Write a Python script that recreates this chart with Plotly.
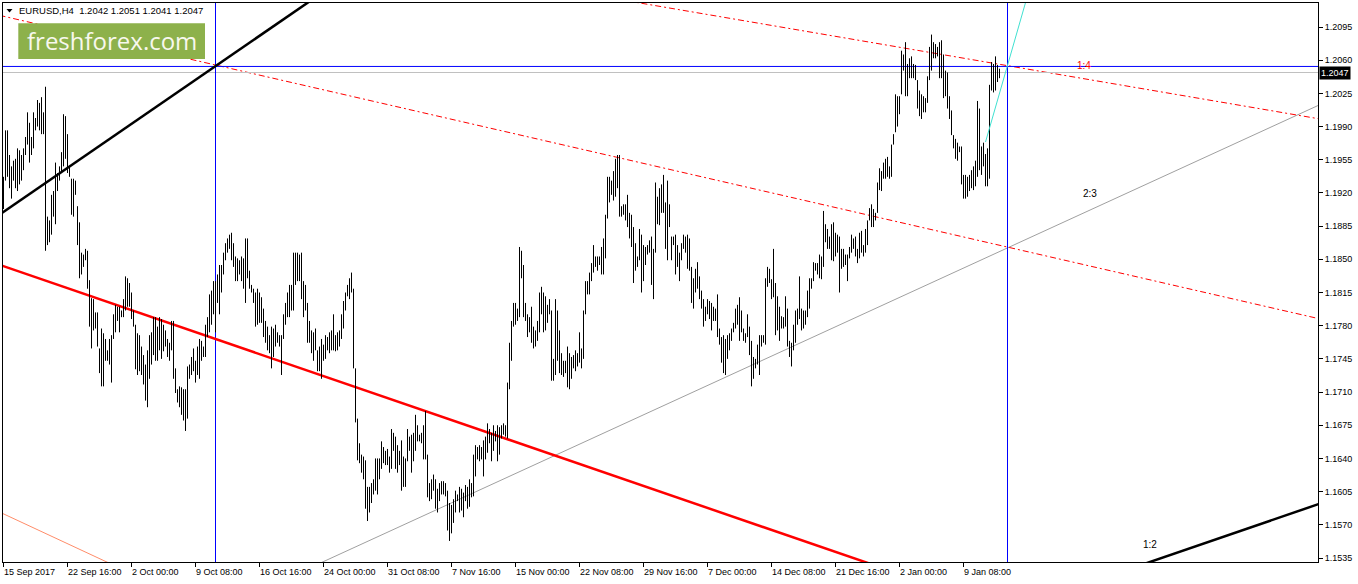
import plotly.graph_objects as go

# ---------------- data ----------------
symbol_title = "EURUSD,H4\u00a0 1.2042 1.2051 1.2041 1.2047"
x_labels = ["15 Sep 2017", "22 Sep 16:00", "2 Oct 00:00", "9 Oct 08:00", "16 Oct 16:00",
            "24 Oct 00:00", "31 Oct 08:00", "7 Nov 16:00", "15 Nov 00:00", "22 Nov 08:00",
            "29 Nov 16:00", "7 Dec 00:00", "14 Dec 08:00", "21 Dec 16:00", "2 Jan 00:00",
            "9 Jan 08:00"]
bars_per_label = 32
price_ticks = ["1.2095", "1.2060", "1.2025", "1.1990", "1.1955", "1.1920", "1.1885", "1.1850",
               "1.1815", "1.1780", "1.1745", "1.1710", "1.1675", "1.1640", "1.1605", "1.1570",
               "1.1535"]
bid_price = 1.2047

# H4 bar highs / lows in price points (1 point = 0.0001)
high_pts = [
    11937, 11986, 11986, 11960, 11948, 11954, 11956, 11967, 11965, 11960,
    11967, 11979, 12005, 11994, 11979, 12005, 11999, 12018, 12015, 12021,
    12005, 12032, 11895, 11891, 11918, 11922, 11952, 11941, 11948, 11963,
    12003, 12001, 11982, 11948, 11935, 11935, 11933, 11906, 11889, 11857,
    11855, 11861, 11859, 11828, 11809, 11808, 11794, 11794, 11756, 11777,
    11772, 11766, 11754, 11766, 11770, 11792, 11802, 11800, 11800, 11796,
    11808, 11832, 11830, 11825,
    11815, 11796, 11781, 11772, 11770, 11758, 11749, 11739, 11754, 11770,
    11773, 11789, 11789, 11779, 11789, 11787, 11781, 11775, 11766, 11762,
    11785, 11785, 11735, 11713, 11716, 11715, 11713, 11713, 11737, 11739,
    11747, 11756, 11743, 11758, 11766, 11764, 11758, 11781, 11789, 11813,
    11817, 11827, 11827, 11834, 11844, 11844, 11857, 11867, 11872, 11876,
    11878, 11867, 11853, 11851, 11849, 11853, 11851, 11872, 11872, 11838,
    11823, 11819, 11815, 11819,
    11815, 11810, 11798, 11785, 11779, 11770, 11779, 11777, 11781, 11773,
    11770, 11770, 11792, 11804, 11815, 11823, 11823, 11857, 11857, 11857,
    11855, 11857, 11827, 11823, 11804, 11785, 11775, 11773, 11777, 11754,
    11758, 11766, 11760, 11770, 11768, 11773, 11775, 11792, 11770, 11773,
    11775, 11792, 11806, 11815, 11823, 11830, 11836, 11819, 11735, 11682,
    11656, 11644, 11642, 11638, 11610, 11610, 11614, 11618, 11640, 11640,
    11640, 11658, 11652, 11648,
    11650, 11642, 11671, 11667, 11663, 11654, 11648, 11659, 11642, 11640,
    11671, 11663, 11665, 11667, 11686, 11675, 11665, 11667, 11675, 11690,
    11644, 11614, 11618, 11623, 11618, 11608, 11614, 11616, 11616, 11614,
    11606, 11593, 11591, 11597, 11606, 11602, 11610, 11608, 11604, 11612,
    11610, 11618, 11614, 11644, 11654, 11652, 11654, 11652, 11659, 11663,
    11677, 11671, 11667, 11675, 11669, 11675, 11673, 11675, 11677, 11675,
    11720, 11762, 11785, 11804,
    11804, 11798, 11863, 11859, 11844, 11804, 11792, 11789, 11800, 11779,
    11775, 11785, 11815, 11821, 11815, 11811, 11802, 11808, 11796, 11745,
    11808, 11796, 11775, 11751, 11743, 11743, 11758, 11751, 11747, 11749,
    11754, 11751, 11773, 11756, 11796, 11827, 11827, 11836, 11846, 11865,
    11853, 11853, 11853, 11863, 11872, 11897, 11937, 11937, 11933, 11943,
    11956, 11960, 11960, 11906, 11908, 11908, 11918, 11899, 11897, 11884,
    11867, 11853, 11882, 11876,
    11865, 11863, 11865, 11870, 11874, 11861, 11931, 11916, 11925, 11929,
    11939, 11910, 11933, 11908, 11874, 11874, 11876, 11865, 11857, 11867,
    11876, 11874, 11876, 11872, 11842, 11830, 11840, 11847, 11832, 11817,
    11808, 11800, 11808, 11806, 11804, 11800, 11798, 11813, 11777, 11768,
    11770, 11766, 11770, 11772, 11777, 11783, 11798, 11802, 11810, 11796,
    11777, 11772, 11792, 11779, 11764, 11747, 11745, 11760, 11770, 11770,
    11770, 11830, 11842, 11840,
    11829, 11861, 11825, 11811, 11800, 11790, 11789, 11811, 11798, 11764,
    11762, 11781, 11796, 11798, 11832, 11798, 11796, 11796, 11817, 11830,
    11830, 11847, 11846, 11846, 11855, 11853, 11901, 11887, 11882, 11874,
    11887, 11889, 11878, 11876, 11874, 11861, 11861, 11855, 11855, 11863,
    11876, 11872, 11874, 11861, 11878, 11880, 11865, 11882, 11891, 11904,
    11908, 11903, 11899, 11931, 11946, 11943, 11952, 11956, 11958, 11948,
    11971, 11982, 12024, 12022,
    12022, 12070, 12066, 12079, 12056, 12062, 12064, 12056, 12055, 12039,
    12028, 12024, 12022, 12020, 12043, 12074, 12087, 12079, 12077, 12074,
    12079, 12081, 12066, 12049, 12047, 12022, 12007, 11981, 11977, 11973,
    11969, 11969, 11939, 11939, 11937, 11939, 11944, 11948, 11954, 12017,
    12009, 11969, 11973, 11961, 11967, 12034, 12058, 12056, 12064, 12055,
    12051,
]
low_pts = [
    11903, 11933, 11937, 11925, 11914, 11933, 11925, 11922, 11929, 11933,
    11944, 11960, 11971, 11952, 11960, 11967, 11986, 11990, 11986, 11982,
    11982, 11859, 11865, 11868, 11876, 11895, 11887, 11922, 11933, 11941,
    11948, 11956, 11941, 11937, 11897, 11895, 11918, 11865, 11830, 11834,
    11842, 11849, 11819, 11779, 11756, 11775, 11777, 11758, 11730, 11716,
    11716, 11743, 11743, 11739, 11720, 11766, 11773, 11785, 11773, 11789,
    11789, 11796, 11800, 11800,
    11787, 11779, 11734, 11728, 11732, 11728, 11718, 11701, 11694, 11724,
    11739, 11749, 11743, 11743, 11754, 11745, 11753, 11758, 11747, 11743,
    11754, 11724, 11709, 11699, 11694, 11686, 11680, 11669, 11682, 11724,
    11728, 11732, 11720, 11728, 11724, 11743, 11747, 11747, 11768, 11773,
    11781, 11792, 11773, 11804, 11792, 11815, 11834, 11849, 11857, 11861,
    11849, 11842, 11827, 11827, 11834, 11827, 11819, 11804, 11830, 11819,
    11815, 11804, 11779, 11781,
    11783, 11783, 11768, 11762, 11754, 11751, 11735, 11747, 11758, 11762,
    11758, 11728, 11766, 11781, 11789, 11789, 11796, 11796, 11823, 11827,
    11827, 11808, 11789, 11796, 11762, 11762, 11751, 11743, 11754, 11732,
    11732, 11724, 11743, 11745, 11754, 11751, 11754, 11754, 11753, 11754,
    11758, 11766, 11777, 11796, 11811, 11808, 11815, 11735, 11678, 11638,
    11635, 11625, 11618, 11587, 11574, 11583, 11593, 11602, 11606, 11602,
    11618, 11629, 11635, 11633,
    11633, 11625, 11629, 11648, 11629, 11625, 11633, 11606, 11610, 11610,
    11637, 11648, 11625, 11637, 11648, 11658, 11658, 11656, 11639, 11639,
    11599, 11595, 11597, 11606, 11587, 11583, 11595, 11602, 11602, 11600,
    11564, 11553, 11561, 11572, 11583, 11595, 11583, 11585, 11578, 11595,
    11587, 11589, 11599, 11600, 11621, 11639, 11637, 11639, 11621, 11639,
    11646, 11656, 11637, 11648, 11658, 11637, 11644, 11661, 11665, 11663,
    11661, 11713, 11743, 11779,
    11781, 11785, 11789, 11830, 11789, 11785, 11768, 11773, 11762, 11756,
    11758, 11764, 11773, 11792, 11773, 11775, 11783, 11792, 11722, 11722,
    11728, 11743, 11730, 11728, 11726, 11730, 11715, 11713, 11724, 11735,
    11732, 11737, 11741, 11735, 11745, 11792, 11813, 11813, 11827, 11836,
    11842, 11838, 11844, 11834, 11834, 11851, 11893, 11910, 11918, 11912,
    11916, 11925, 11895, 11895, 11897, 11891, 11884, 11872, 11863, 11825,
    11838, 11842, 11849, 11815,
    11827, 11844, 11855, 11857, 11823, 11808, 11857, 11887, 11886, 11899,
    11899, 11861, 11849, 11884, 11849, 11865, 11834, 11842, 11827, 11849,
    11861, 11857, 11840, 11838, 11804, 11798, 11815, 11819, 11808, 11798,
    11779, 11785, 11792, 11787, 11775, 11785, 11785, 11768, 11760, 11741,
    11730, 11728, 11745, 11754, 11764, 11773, 11777, 11781, 11764, 11773,
    11764, 11762, 11768, 11749, 11716, 11724, 11735, 11739, 11728, 11758,
    11762, 11760, 11821, 11825,
    11808, 11810, 11770, 11775, 11764, 11777, 11777, 11779, 11758, 11747,
    11737, 11754, 11762, 11781, 11787, 11775, 11777, 11781, 11789, 11798,
    11819, 11827, 11838, 11834, 11830, 11829, 11842, 11868, 11861, 11861,
    11849, 11848, 11853, 11857, 11815, 11840, 11842, 11844, 11827, 11851,
    11857, 11861, 11853, 11846, 11851, 11857, 11853, 11857, 11865, 11891,
    11884, 11884, 11891, 11899, 11923, 11922, 11935, 11935, 11937, 11935,
    11937, 11971, 11984, 11990,
    12003, 12024, 12049, 12022, 12022, 12041, 12041, 12041, 12039, 12009,
    12001, 11998, 12005, 12005, 12015, 12039, 12049, 12062, 12062, 12064,
    12041, 12041, 12020, 12022, 12009, 11998, 11981, 11967, 11956, 11954,
    11963, 11929, 11914, 11914, 11916, 11922, 11925, 11923, 11927, 11937,
    11944, 11939, 11948, 11927, 11927, 11935, 12028, 12026, 12028, 12037,
    12041,
]

# drawn chart objects: (bar index, price) anchor points
black_ray_x, black_ray_y = [-2, 160], [1.18970, 1.21321]
red_trend_x, red_trend_y = [-2, 448.25], [1.18442, 1.15181]
salmon_x, salmon_y = [-2, 58.25], [1.15835, 1.15243]
red_fan_upper_x, red_fan_upper_y = [298.25, 663.25], [1.21275, 1.19962]
red_fan_lower_x, red_fan_lower_y = [-2, 663.25], [1.21073, 1.17847]
gray_fan_x, gray_fan_y = [153.25, 663.25], [1.15247, 1.20180]
cyan_x, cyan_y = [491, 512.1], [1.19737, 1.21287]
black_low_x, black_low_y = [568.25, 663.25], [1.15272, 1.15960]
blue_level = 1.20534
blue_vlines = [106, 502]
fan_labels = [("1:4", 540.25, 1.2054, "#FF0000"),
              ("2:3", 543.25, 1.1919, "#000000"),
              ("1:2", 573.25, 1.1549, "#000000")]

# ---------------- layout constants ----------------
W, H = 1358, 584
ML, MR, MT, MB = 3, 40, 3, 22
PW, PH = W - ML - MR, H - MT - MB
XR = [-0.25, -0.25 + PW / 2.0]
YR = [1.153078, 1.212031]
FONT = "Liberation Sans, Arial, sans-serif"


def pxx(p):
    return (p - ML) / PW


def pxy(p):
    return 1 - (p - MT) / PH


high = [v / 10000 for v in high_pts]
low = [v / 10000 for v in low_pts]
n = min(len(high), len(low))

bx, byy = [], []
for i in range(n):
    bx += [i, i, None]
    byy += [low[i], high[i], None]

fig = go.Figure()


def add_line(xs, ys, color, width, dash="solid"):
    fig.add_trace(go.Scatter(x=xs, y=ys, mode="lines",
                             line=dict(color=color, width=width, dash=dash),
                             hoverinfo="skip", showlegend=False))


add_line(salmon_x, salmon_y, "#FF8C69", 1)
add_line(gray_fan_x, gray_fan_y, "#A0A0A0", 1)
add_line(red_fan_upper_x, red_fan_upper_y, "#FF0000", 1, "6px,3px,2px,3px")
add_line(red_fan_lower_x, red_fan_lower_y, "#FF0000", 1, "6px,3px,2px,3px")
add_line([XR[0], XR[1]], [bid_price, bid_price], "#C0C0C0", 1)
add_line([XR[0], XR[1]], [blue_level, blue_level], "#0000FF", 1)
for v in blue_vlines:
    add_line([v, v], [YR[0] - 0.01, YR[1] + 0.01], "#0000FF", 1)
add_line(red_trend_x, red_trend_y, "#FF0000", 2.5)
add_line(black_ray_x, black_ray_y, "#000000", 2.5)
add_line(black_low_x, black_low_y, "#000000", 2.5)

fig.add_trace(go.Scatter(x=bx, y=byy, mode="lines",
                         line=dict(color="#000000", width=1),
                         hoverinfo="skip", showlegend=False))
add_line(cyan_x, cyan_y, "#40E0D0", 1)

annotations = []
for i, lab in enumerate(x_labels):
    annotations.append(dict(x=i * bars_per_label, xref="x", y=0, yref="paper",
                            xanchor="left", yanchor="top", yshift=-3, xshift=-2,
                            text=lab, showarrow=False,
                            font=dict(family=FONT, size=9, color="#000000")))
for txt, xv, yv, col in fan_labels:
    annotations.append(dict(x=xv, y=yv, xref="x", yref="y", text=txt, showarrow=False,
                            font=dict(family=FONT, size=10, color=col)))
annotations.append(dict(x=1, xref="paper", y=bid_price, yref="y", xanchor="left",
                        yanchor="middle", xshift=1, text="1.2047", showarrow=False,
                        bgcolor="#000000", borderpad=1,
                        font=dict(family=FONT, size=9, color="#FFFFFF")))
annotations.append(dict(x=pxx(17), xref="paper", y=pxy(10.5), yref="paper",
                        xanchor="left", yanchor="middle", text=symbol_title,
                        showarrow=False, font=dict(family=FONT, size=9.5, color="#000000")))
annotations.append(dict(x=pxx(111.5), xref="paper", y=pxy(40.5), yref="paper",
                        xanchor="center", yanchor="middle", text="freshforex.com",
                        showarrow=False,
                        font=dict(family="Open Sans, sans-serif", size=24, color="#F8F8EE")))

shapes = [
    dict(type="rect", xref="paper", yref="paper", x0=pxx(18.3), x1=pxx(205),
         y0=pxy(59), y1=pxy(23.3), fillcolor="#8DB14B", line=dict(width=0), layer="above"),
    dict(type="path", xref="paper", yref="paper",
         path="M %f,%f L %f,%f L %f,%f Z" % (pxx(6.5), pxy(9), pxx(12.5), pxy(9),
                                             pxx(9.5), pxy(12.5)),
         fillcolor="#000000", line=dict(width=0), layer="above"),
]

fig.update_layout(
    width=W, height=H,
    margin=dict(l=ML, r=MR, t=MT, b=MB, pad=0),
    paper_bgcolor="#FFFFFF", plot_bgcolor="#FFFFFF",
    showlegend=False,
    annotations=annotations,
    shapes=shapes,
    xaxis=dict(range=XR, showgrid=False, zeroline=False, showline=True,
               linecolor="#000000", linewidth=1, mirror=True,
               tickvals=[i * bars_per_label for i in range(len(x_labels))],
               ticks="outside", ticklen=4, tickcolor="#000000", tickwidth=1,
               showticklabels=False, fixedrange=True),
    yaxis=dict(range=YR, side="right", showgrid=False, zeroline=False, showline=True,
               linecolor="#000000", linewidth=1, mirror=True,
               tickmode="array",
               tickvals=[float(t) for t in price_ticks], ticktext=price_ticks,
               ticks="outside", ticklen=4, tickcolor="#000000", tickwidth=1,
               tickfont=dict(family=FONT, size=9, color="#000000"), fixedrange=True),
)

fig.write_html("out.html", config={"displayModeBar": False},
               post_script="document.body.style.margin='0';document.body.style.padding='0';"
                           "document.body.style.overflow='hidden';")
